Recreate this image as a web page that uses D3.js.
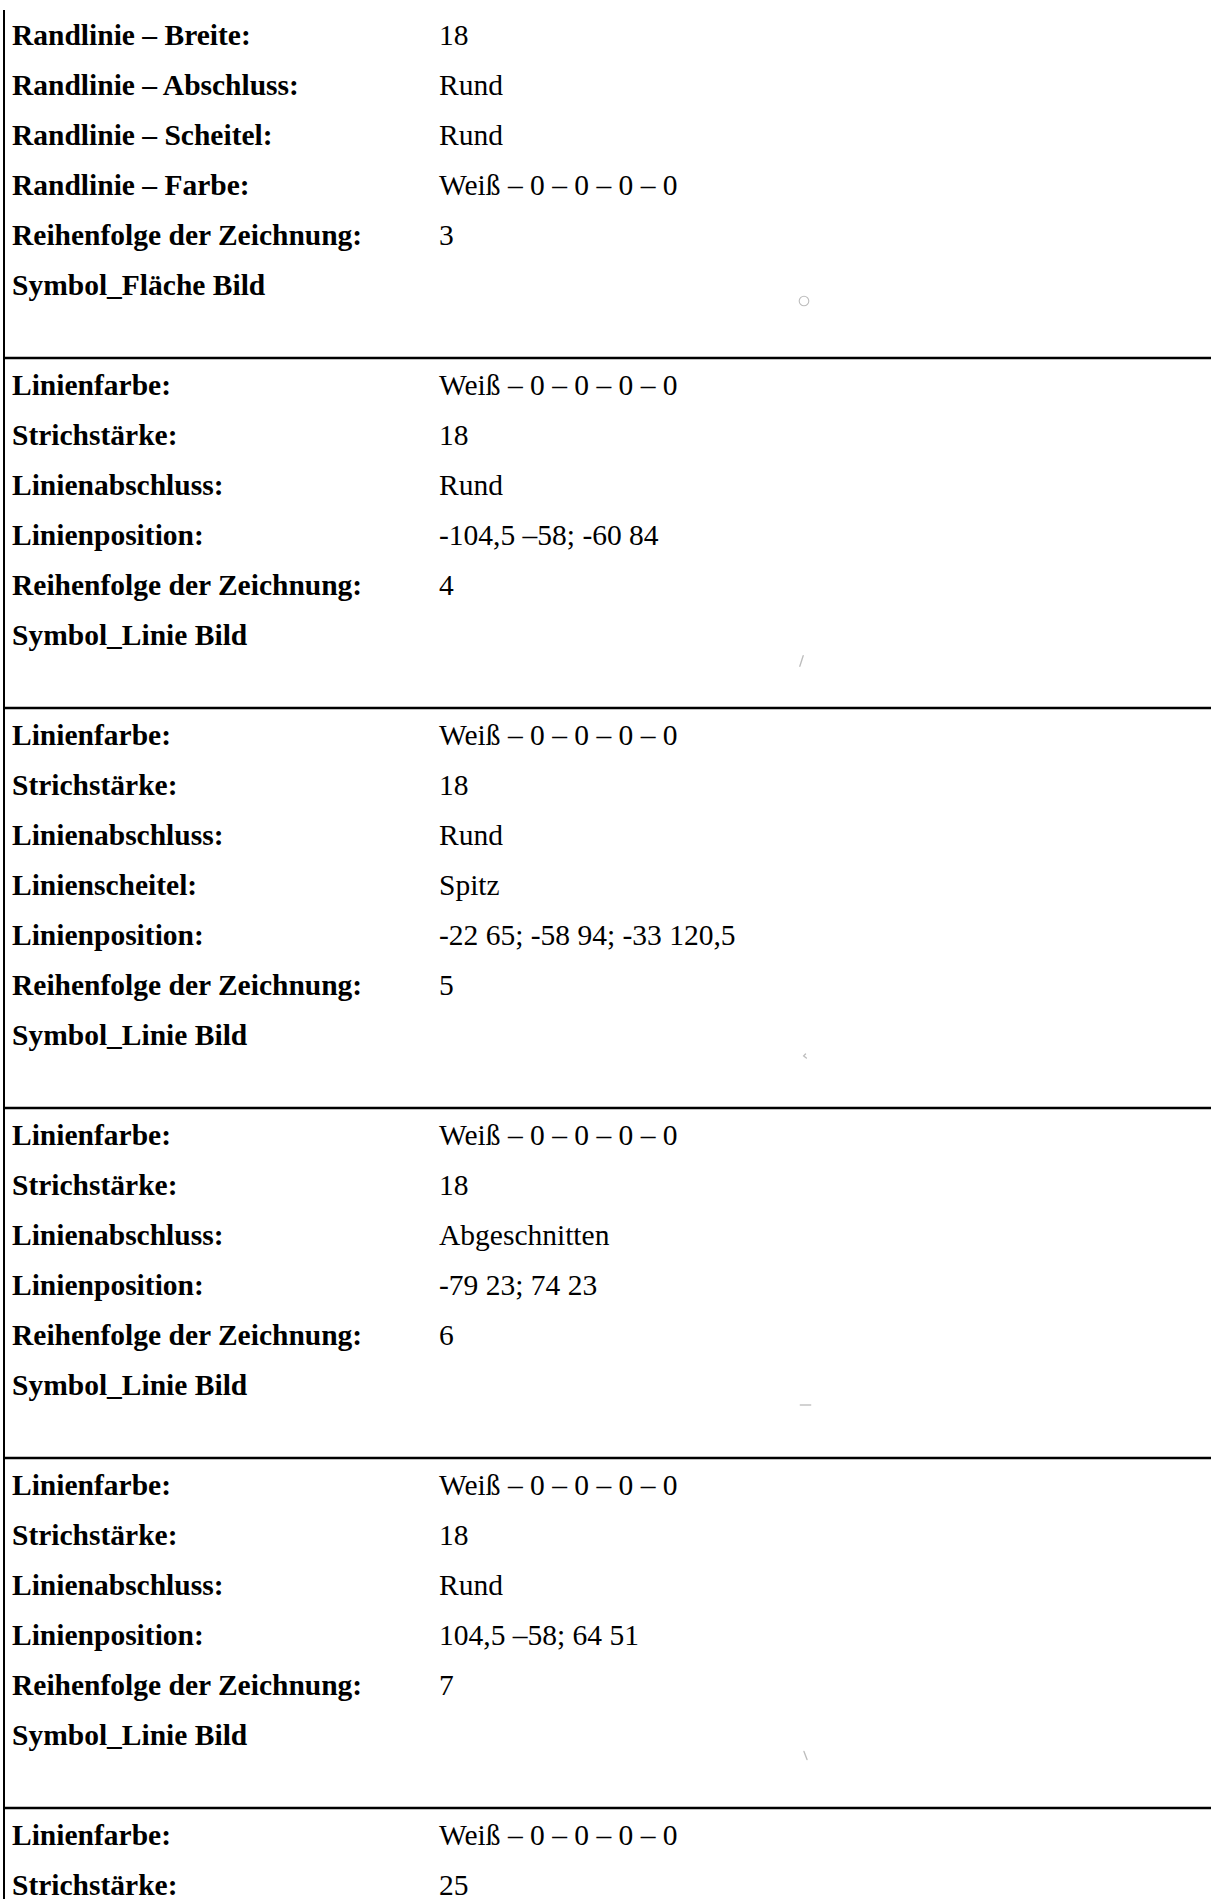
<!DOCTYPE html>
<html><head><meta charset="utf-8">
<script src="https://cdn.jsdelivr.net/npm/d3@7"></script>
<style>html,body{margin:0;padding:0;background:#fff;}svg{display:block;}</style>
</head><body>
<script>
// ---- data ----
const block1Labels = ["Randlinie – Breite:", "Randlinie – Abschluss:", "Randlinie – Scheitel:", "Randlinie – Farbe:", "Reihenfolge der Zeichnung:", "Symbol_Fläche Bild"];
const block1Values = ["18", "Rund", "Rund", "Weiß – 0 – 0 – 0 – 0", "3", ""];
const block2Labels = ["Linienfarbe:", "Strichstärke:", "Linienabschluss:", "Linienposition:", "Reihenfolge der Zeichnung:", "Symbol_Linie Bild"];
const block2Values = ["Weiß – 0 – 0 – 0 – 0", "18", "Rund", "-104,5 –58; -60 84", "4", ""];
const block3Labels = ["Linienfarbe:", "Strichstärke:", "Linienabschluss:", "Linienscheitel:", "Linienposition:", "Reihenfolge der Zeichnung:", "Symbol_Linie Bild"];
const block3Values = ["Weiß – 0 – 0 – 0 – 0", "18", "Rund", "Spitz", "-22 65; -58 94; -33 120,5", "5", ""];
const block4Labels = ["Linienfarbe:", "Strichstärke:", "Linienabschluss:", "Linienposition:", "Reihenfolge der Zeichnung:", "Symbol_Linie Bild"];
const block4Values = ["Weiß – 0 – 0 – 0 – 0", "18", "Abgeschnitten", "-79 23; 74 23", "6", ""];
const block5Labels = ["Linienfarbe:", "Strichstärke:", "Linienabschluss:", "Linienposition:", "Reihenfolge der Zeichnung:", "Symbol_Linie Bild"];
const block5Values = ["Weiß – 0 – 0 – 0 – 0", "18", "Rund", "104,5 –58; 64 51", "7", ""];
const block6Labels = ["Linienfarbe:", "Strichstärke:"];
const block6Values = ["Weiß – 0 – 0 – 0 – 0", "25"];

const symbolTypes = ["circle", "line", "line", "line", "line", null];
const symbolPoints = [
  null,
  [[-104.5, -58], [-60, 84]],
  [[-22, 65], [-58, 94], [-33, 120.5]],
  [[-79, 23], [74, 23]],
  [[104.5, -58], [64, 51]],
  null
];
const symbolCaps = ["round", "round", "round", "butt", "round", null];
const symbolWidths = [18, 18, 18, 18, 18, 25];

// ---- layout ----
const W = 1211, H = 1899;
const rowH = 50, firstRowOffset = 28, labelX = 12, valueX = 439, fontSize = 29.5;
const symScale = 0.075;
const symCenterX = [804, 801.5, 805, 805.5, 805.5, 805];
const symOffsetFromBottom = [57, 47, 52, 53, 52.5, 52];
const blocks = [
  [block1Labels, block1Values], [block2Labels, block2Values], [block3Labels, block3Values],
  [block4Labels, block4Values], [block5Labels, block5Values], [block6Labels, block6Values]
];

const svg = d3.select("body").append("svg").attr("width", W).attr("height", H);

let blockTop = 8;
const tops = [];
blocks.forEach(([labels]) => { tops.push(blockTop); blockTop += rowH * (labels.length + 1); });

// left border
svg.append("line").attr("x1", 4).attr("x2", 4).attr("y1", 10).attr("y2", H)
  .attr("stroke", "#000").attr("stroke-width", 2);

blocks.forEach(([labels, values], bi) => {
  const y0 = tops[bi];
  const yBottom = y0 + rowH * (labels.length + 1);
  if (bi > 0) {
    svg.append("line").attr("x1", 3).attr("x2", W).attr("y1", y0).attr("y2", y0)
      .attr("stroke", "#000").attr("stroke-width", 2.5);
  }
  const g = svg.append("g");
  const ys = d3.scaleLinear().domain([0, 1]).range([y0 + firstRowOffset, y0 + firstRowOffset + rowH]);
  g.selectAll("text.l").data(labels).join("text").attr("class", "l")
    .attr("x", labelX).attr("y", (d, i) => ys(i) + 8.5)
    .attr("font-family", "'Liberation Serif', 'Times New Roman', serif")
    .attr("font-weight", "bold").attr("font-size", fontSize).attr("fill", "#000").text(d => d);
  g.selectAll("text.v").data(values).join("text").attr("class", "v")
    .attr("x", valueX).attr("y", (d, i) => ys(i) + 8.5)
    .attr("font-family", "'Liberation Serif', 'Times New Roman', serif")
    .attr("font-size", fontSize).attr("fill", "#000").text(d => d);

  // symbol
  const type = symbolTypes[bi];
  const cx = symCenterX[bi];
  const cy = yBottom - symOffsetFromBottom[bi];
  if (type === "circle") {
    g.append("circle").attr("cx", cx).attr("cy", cy).attr("r", 4.8)
      .attr("fill", "none").attr("stroke", "#bdbdbd").attr("stroke-width", 1.1);
  } else if (type === "line") {
    const pts = symbolPoints[bi];
    const xe = d3.extent(pts, p => p[0]), ye = d3.extent(pts, p => p[1]);
    const mx = (xe[0] + xe[1]) / 2, my = (ye[0] + ye[1]) / 2;
    const sx = d3.scaleLinear().domain([mx - 100, mx + 100]).range([cx - 100 * symScale, cx + 100 * symScale]);
    const sy = d3.scaleLinear().domain([my - 100, my + 100]).range([cy + 100 * symScale, cy - 100 * symScale]);
    const line = d3.line().x(p => sx(p[0])).y(p => sy(p[1]));
    g.append("path").attr("d", line(pts)).attr("fill", "none")
      .attr("stroke", "#bdbdbd").attr("stroke-width", symbolWidths[bi] * symScale)
      .attr("stroke-linecap", symbolCaps[bi]).attr("stroke-linejoin", "miter");
  }
});
</script>
</body></html>
